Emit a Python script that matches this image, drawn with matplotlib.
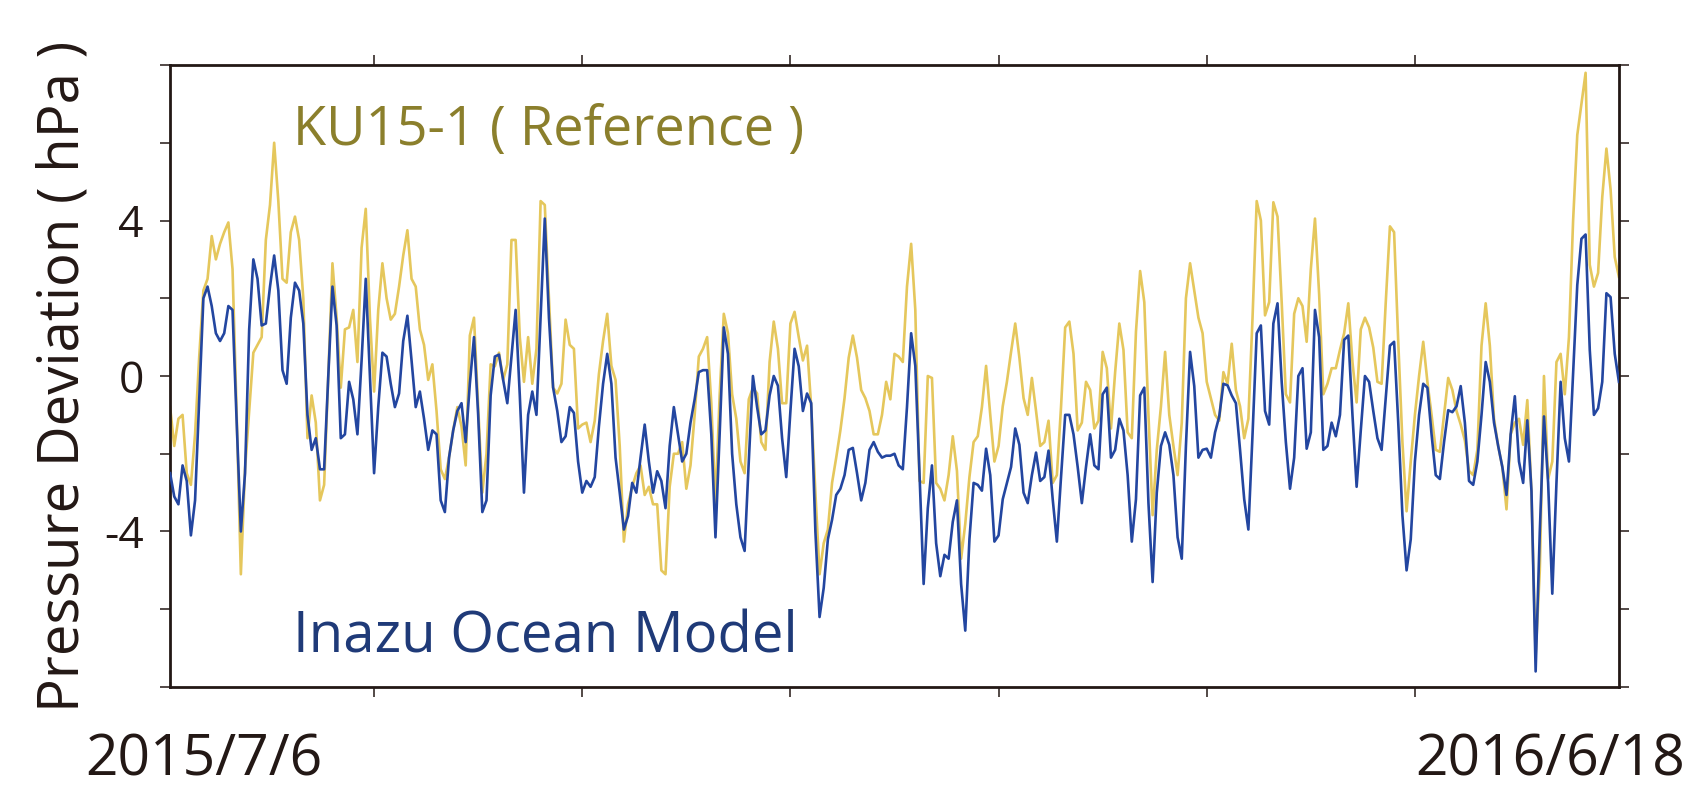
import numpy as np
import matplotlib
matplotlib.use('Agg')
from matplotlib import pyplot as plt

plt.rcParams['font.family'] = ['Open Sans', 'DejaVu Sans']

# daily pressure deviation (hPa), 2015/7/6 .. 2016/6/18
reference = [
    -0.8, -1.8, -1.1, -1.0, -2.5, -2.8, -1.5, 0.5, 2.2, 2.5,
    3.6, 3.0, 3.4, 3.7, 3.95, 2.75, -1.0, -5.1, -2.4, -0.9,
    0.6, 0.8, 1.0, 3.5, 4.4, 6.0, 4.5, 2.5, 2.4, 3.7,
    4.1, 3.5, 2.0, -1.6, -0.5, -1.2, -3.2, -2.8, 0.0, 2.9,
    1.5, -0.3, 1.2, 1.25, 1.7, 0.36, 3.3, 4.3, 1.5, -0.4,
    1.7, 2.9, 2.0, 1.45, 1.6, 2.3, 3.1, 3.75, 2.5, 2.3,
    1.2, 0.8, -0.1, 0.3, -0.9, -2.4, -2.65, -2.1, -1.4, -0.8,
    -1.3, -2.3, 1.04, 1.5, -0.8, -3.0, -2.0, 0.3, 0.25, 0.6,
    -0.1, 0.3, 3.5, 3.5, 1.0, -0.15, 1.0, -0.2, 0.7, 4.5,
    4.4, 2.0, -0.3, -0.45, -0.2, 1.45, 0.8, 0.7, -1.35, -1.25,
    -1.2, -1.7, -1.15, 0.05, 0.9, 1.6, 0.26, -0.1, -1.8, -4.26,
    -3.3, -2.85, -2.5, -2.3, -3.06, -2.85, -3.3, -3.3, -5.0, -5.1,
    -2.85, -2.0, -2.0, -1.7, -2.9, -2.3, -1.0, 0.5, 0.7, 1.0,
    -0.7, -3.3, -0.5, 1.6, 1.1, -0.47, -1.1, -2.2, -2.5, -0.6,
    -0.3, -0.45, -1.7, -1.9, 0.36, 1.4, 0.7, -0.7, -0.7, 1.35,
    1.65, 1.0, 0.4, 0.78, -0.8, -3.0, -5.1, -4.3, -3.95, -2.75,
    -2.1, -1.4, -0.57, 0.47, 1.04, 0.47, -0.36, -0.57, -0.9, -1.5,
    -1.5, -1.0, -0.15, -0.6, 0.57, 0.5, 0.36, 2.3, 3.4, 1.7,
    -2.7, -2.75, 0.0, -0.05, -2.75, -2.9, -3.2, -2.55, -1.55, -2.44,
    -4.7, -3.8, -2.6, -1.7, -1.55, -0.8, 0.26, -1.0, -2.2, -1.8,
    -0.78, -0.15, 0.62, 1.35, 0.47, -0.57, -1.0, -0.05, -0.9, -1.8,
    -1.7, -1.15, -2.75, -2.55, -0.8, 1.25, 1.4, 0.57, -1.4, -1.2,
    -0.15, -0.36, -1.35, -1.15, 0.62, 0.2, -1.35, 0.1, 1.35, 0.67,
    -1.45, -1.6, 1.14, 2.7, 1.9, -1.0, -3.58, -1.9, -0.78, 0.62,
    -1.0, -1.8, -2.55, -1.2, 2.0, 2.9, 2.2, 1.5, 1.1, -0.15,
    -0.57, -1.0, -1.15, 0.1, -0.2, 0.83, -0.36, -0.78, -1.6, -1.1,
    1.5, 4.5, 4.0, 1.56, 1.9, 4.47, 4.1, 1.9, -0.47, -0.68,
    1.6, 2.0, 1.8, 0.88, 2.75, 4.05, 2.1, -0.47, -0.2, 0.2,
    0.2, 0.67, 1.1, 1.87, 0.36, -0.68, 1.2, 1.5, 1.25, 0.73,
    -0.15, -0.2, 1.9, 3.85, 3.7, 0.88, -1.7, -3.48, -2.2, -1.0,
    0.0, 0.88, -0.15, -1.0, -1.9, -1.95, -1.0, -0.05, -0.36, -0.9,
    -1.25, -1.66, -2.44, -2.55, -1.9, 0.78, 1.87, 0.78, -1.1, -1.8,
    -2.34, -3.43, -1.5, -1.2, -1.1, -1.77, -0.62, -3.0, -7.2, -5.0,
    0.0, -2.65, -2.2, 0.36, 0.57, -0.47, 1.0, 4.0, 6.2, 7.0,
    7.8, 2.86, 2.3, 2.65, 4.6, 5.85, 4.8, 3.06, 2.55,
]

model = [
    -2.5, -3.1, -3.3, -2.3, -2.7, -4.1, -3.2, -0.6, 2.0, 2.3,
    1.8, 1.1, 0.9, 1.1, 1.8, 1.7, -1.2, -4.0, -2.5, 1.2,
    3.0, 2.5, 1.3, 1.35, 2.3, 3.1, 2.2, 0.15, -0.2, 1.5,
    2.4, 2.2, 1.35, -1.0, -1.9, -1.6, -2.4, -2.4, 0.0, 2.3,
    1.3, -1.6, -1.5, -0.15, -0.6, -1.5, 0.4, 2.5, 0.0, -2.5,
    -0.8, 0.6, 0.5, -0.2, -0.8, -0.45, 0.9, 1.55, 0.4, -0.8,
    -0.4, -1.1, -1.9, -1.4, -1.5, -3.2, -3.5, -2.1, -1.4, -0.9,
    -0.7, -1.7, -0.2, 1.0, -1.0, -3.5, -3.2, -0.5, 0.5, 0.55,
    -0.1, -0.7, 0.5, 1.7, -0.5, -3.0, -1.0, -0.4, -1.0, 1.5,
    4.05, 1.5, -0.3, -0.9, -1.7, -1.55, -0.8, -0.95, -2.2, -3.0,
    -2.7, -2.85, -2.6, -1.3, -0.2, 0.57, -0.2, -2.1, -3.0, -3.95,
    -3.6, -2.75, -3.0, -2.1, -1.25, -2.2, -3.0, -2.45, -2.7, -3.4,
    -1.8, -0.8, -1.5, -2.2, -2.0, -1.2, -0.6, 0.1, 0.15, 0.15,
    -1.5, -4.15, -1.5, 1.25, 0.57, -2.0, -3.3, -4.15, -4.5, -2.2,
    0.0, -0.8, -1.5, -1.4, -0.5, 0.0, -0.25, -1.6, -2.6, -0.9,
    0.7, 0.25, -0.9, -0.45, -0.7, -4.0, -6.2, -5.45, -4.2, -3.7,
    -3.06, -2.9, -2.55, -1.9, -1.85, -2.5, -3.2, -2.75, -1.9, -1.7,
    -1.95, -2.1, -2.05, -2.05, -2.0, -2.3, -2.4, -0.8, 1.1, 0.26,
    -2.5, -5.35, -3.4, -2.3, -4.3, -5.15, -4.6, -4.7, -3.75, -3.2,
    -5.35, -6.55, -4.2, -2.75, -2.8, -2.95, -1.87, -2.55, -4.26, -4.1,
    -3.17, -2.75, -2.34, -1.35, -1.77, -3.0, -3.27, -2.55, -1.97, -2.7,
    -2.6, -1.92, -3.17, -4.26, -2.6, -1.0, -1.0, -1.5, -2.34, -3.27,
    -2.34, -1.5, -2.3, -2.4, -0.47, -0.3, -2.1, -1.9, -1.1, -1.4,
    -2.55, -4.26, -3.17, -0.5, -0.3, -3.27, -5.3, -3.0, -1.8, -1.45,
    -1.77, -2.55, -4.15, -4.7, -1.8, 0.62, -0.26, -2.1, -1.9, -1.87,
    -2.1, -1.45, -1.04, -0.2, -0.24, -0.5, -0.7, -1.9, -3.17, -3.95,
    -1.5, 1.1, 1.3, -0.9, -1.25, 1.35, 1.87, -0.15, -1.7, -2.9,
    -2.1, 0.0, 0.2, -1.87, -1.45, 1.7, 1.0, -1.9, -1.8, -1.2,
    -1.55, -1.0, 0.93, 1.04, -1.0, -2.85, -1.4, 0.0, -0.15, -0.9,
    -1.6, -1.9, -0.57, 0.78, 0.88, -1.2, -3.58, -5.0, -4.2, -2.2,
    -1.0, -0.2, -0.3, -1.5, -2.55, -2.65, -1.7, -0.88, -0.93, -0.78,
    -0.26, -1.2, -2.7, -2.8, -2.2, -1.0, 0.36, -0.15, -1.2, -1.8,
    -2.34, -3.06, -1.5, -0.52, -2.2, -2.75, -1.14, -2.96, -7.6, -4.0,
    -1.04, -2.75, -5.6, -2.75, -0.15, -1.6, -2.2, 0.05, 2.34, 3.53,
    3.64, 0.67, -1.0, -0.83, -0.15, 2.13, 2.03, 0.57, -0.15,
]

start_label = '2015/7/6'
end_label = '2016/6/18'
y_ticks = [-8, -6, -4, -2, 0, 2, 4, 6, 8]
y_labels = ['', '', '-4', '', '0', '', '4', '', '']
x_ticks = [50, 100, 150, 200, 250, 300]

days = np.arange(1, len(model) + 1)

ink = '#231815'
yellow = '#e5c75c'
blue = '#2346a0'

fig = plt.figure(figsize=(16.89, 7.91), dpi=100)
ax = fig.add_axes([0.1007, 0.1315, 0.8578, 0.7863])

ax.plot(days, reference, color=yellow, lw=1.9, zorder=2)
ax.plot(days, model, color=blue, lw=1.9, zorder=3)

ax.set_xlim(1, len(model))
ax.set_ylim(-8, 8)
ax.set_yticks(y_ticks)
ax.set_yticklabels(y_labels)
ax.set_xticks(x_ticks)
ax.set_xticklabels([])
ax.tick_params(axis='both', direction='out', length=7, width=1.1, colors=ink,
               top=True, right=True, labelsize=32, pad=12)
for s in ax.spines.values():
    s.set_linewidth(2.0)
    s.set_color(ink)

ax.set_ylabel('Pressure Deviation ( hPa )', fontsize=40.5, color=ink, labelpad=8)

ax.text(0.085, 0.871, 'KU15-1 ( Reference )', transform=ax.transAxes,
        fontsize=39, color='#8b7f2c', va='baseline', ha='left')
ax.text(0.085, 0.056, 'Inazu Ocean Model', transform=ax.transAxes,
        fontsize=40.5, color='#1f3a78', va='baseline', ha='left')

# date labels under both ends of the axis
fig.text(204 / 1689, 2 / 791, start_label, fontsize=41, color=ink,
         ha='center', va='bottom')
fig.text(1550 / 1689, 2 / 791, end_label, fontsize=41, color=ink,
         ha='center', va='bottom')

fig.savefig('out.png', dpi=100, facecolor='white')
